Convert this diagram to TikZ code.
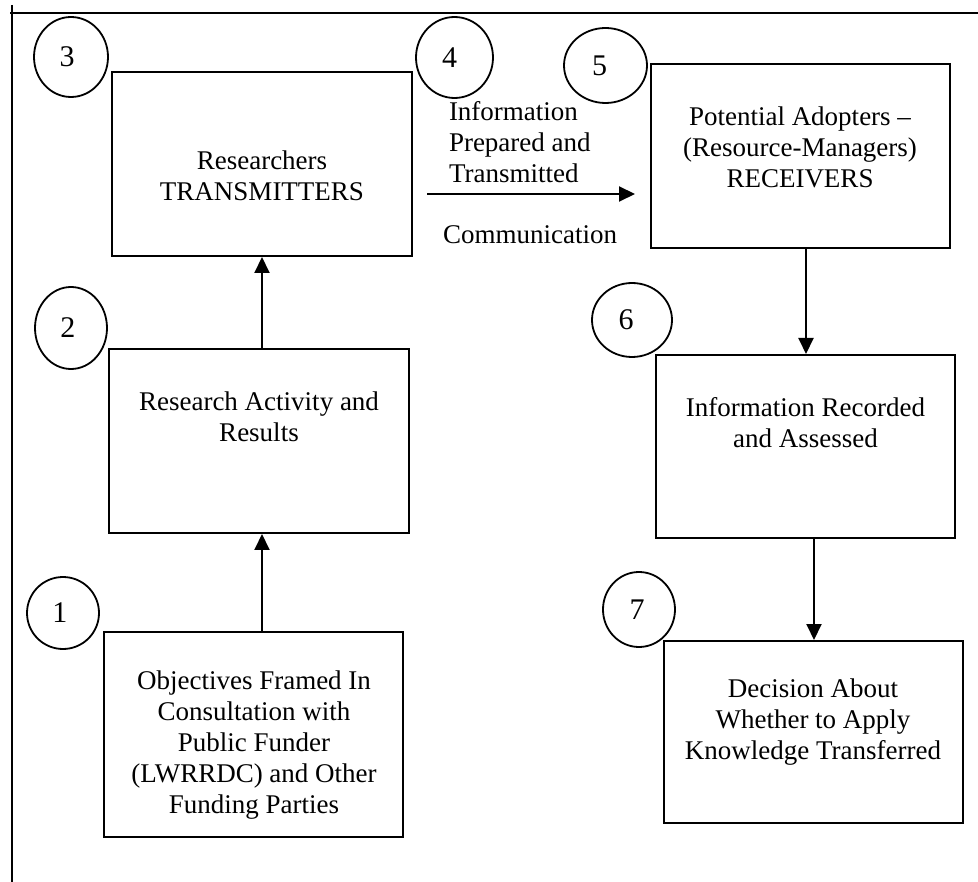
\documentclass[tikz,border=0pt]{standalone}
\usepackage{fontspec}
\setmainfont{Liberation Serif}
\usetikzlibrary{arrows.meta,shapes.geometric}
\begin{document}
\begin{tikzpicture}[x=1pt,y=-1pt,line width=2pt,
  box/.style={draw,rectangle,inner sep=0pt},
  num/.style={draw,ellipse,inner sep=0pt,line width=1.8pt,font=\fontsize{30}{34}\selectfont},
  txt/.style={align=center,inner sep=0pt,font=\fontsize{27}{31}\selectfont},
  ltxt/.style={align=left,inner sep=0pt,anchor=west,font=\fontsize{27}{31}\selectfont},
  arr/.style={-{Triangle[length=16pt,width=15pt]}}]
\useasboundingbox (0,0) rectangle (978,882);
% frame lines
\draw (11.5,5) -- (11.5,882);
\draw (10,13) -- (978,13);
% boxes
\node[box,minimum width=300pt,minimum height=184pt] (b3) at (262,164) {};
\node[box,minimum width=300pt,minimum height=184pt] (b2) at (259,441) {};
\node[box,minimum width=299pt,minimum height=205pt] (b1) at (253.5,734.5) {};
\node[box,minimum width=299pt,minimum height=184pt] (b5) at (800.5,156) {};
\node[box,minimum width=299pt,minimum height=183pt] (b6) at (805.5,446.5) {};
\node[box,minimum width=299pt,minimum height=182pt] (b7) at (813.5,732) {};
% box texts
\node[txt] (t3) at (262,176) {Researchers\\TRANSMITTERS};
\node[txt] (t2) at (259,417) {Research Activity and\\Results};
\node[txt] (t1) at (254,745.5) {Objectives Framed In\\Consultation with\\Public Funder\\(LWRRDC) and Other\\Funding Parties};
\node[txt] (t5) at (800,147) {Potential Adopters –\\(Resource-Managers)\\RECEIVERS};
\node[txt] (t6) at (805.5,422.5) {Information Recorded\\and Assessed};
\node[txt] (t7) at (813,722.5) {Decision About\\Whether to Apply\\Knowledge Transferred};
% numbered ellipses
\node[num,minimum width=74pt,minimum height=80pt] (c3) at (71,57) {\kern-8pt 3};
\node[num,minimum width=77pt,minimum height=81pt] (c4) at (454.5,57.5) {\kern-10pt 4};
\node[num,minimum width=83pt,minimum height=75pt] (c5) at (605.5,65.5) {\kern-12pt 5};
\node[num,minimum width=80pt,minimum height=74pt] (c6) at (632,320) {\kern-12pt 6};
\node[num,minimum width=72pt,minimum height=82pt] (c2) at (71,328) {\kern-6pt 2};
\node[num,minimum width=72pt,minimum height=72pt] (c1) at (63,613) {\kern-6pt 1};
\node[num,minimum width=72pt,minimum height=75pt] (c7) at (639,609.5) {\kern-4pt 7};
% communication arrow and labels
\coordinate (a4s) at (427,194);
\coordinate (a4e) at (635,194);
\draw[arr] (a4s) -- (a4e);
\node[ltxt] (t4) at (448,142) {Information\\Prepared and\\Transmitted};
\node[ltxt] (tc) at (442,235) {Communication};
% connectors
\draw[arr] ([xshift=8.5pt]b1.north) -- ([xshift=3pt]b2.south);
\draw[arr] ([xshift=3pt]b2.north) -- (b3.south);
\draw[arr] ([xshift=5.5pt]b5.south) -- ([xshift=0.5pt]b6.north);
\draw[arr] ([xshift=8.5pt]b6.south) -- ([xshift=0.5pt]b7.north);
\end{tikzpicture}
\end{document}
